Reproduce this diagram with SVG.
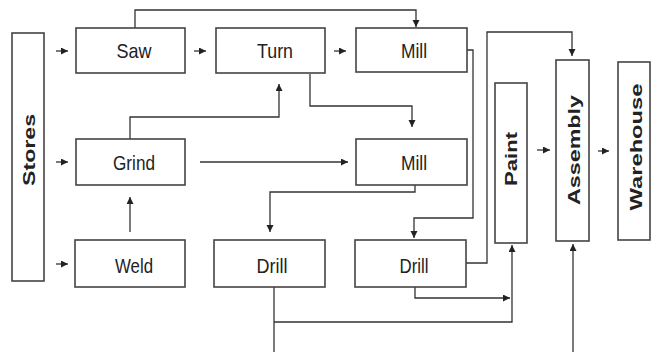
<svg xmlns="http://www.w3.org/2000/svg" width="652" height="352" viewBox="0 0 652 352">
<defs>
<marker id="ah" markerUnits="userSpaceOnUse" markerWidth="8" markerHeight="8" refX="7" refY="3.5" orient="auto">
<path d="M0,0 L7,3.5 L0,7 z" fill="#222"/>
</marker>
<style>
.box{fill:#fff;stroke:#444;stroke-width:1.6}
.lbl{font-family:"Liberation Sans",Arial,sans-serif;font-size:21px;fill:#222;text-anchor:middle}
.vl{font-family:"Liberation Sans",Arial,sans-serif;font-size:16px;font-weight:bold;fill:#222;text-anchor:middle}
.c{fill:none;stroke:#333;stroke-width:1.3}
.a{marker-end:url(#ah)}
</style>
</defs>
<rect width="652" height="352" fill="#fff"/>
<g id="connectors">
<path class="c a" d="M56,51 H68"/>
<path class="c a" d="M56,162 H68"/>
<path class="c a" d="M56,264 H68"/>
<path class="c a" d="M194,51 H206"/>
<path class="c a" d="M334,51 H346"/>
<path class="c a" d="M135,28 V10 H416 V27"/>
<path class="c a" d="M130,139 V117 H279 V84"/>
<path class="c a" d="M310,74 V106 H412 V127"/>
<path class="c a" d="M200,162 H348"/>
<path class="c a" d="M467,50 H473 V218 H414 V238"/>
<path class="c a" d="M415,185 V192 H270 V232"/>
<path class="c a" d="M130,232 V197"/>
<path class="c a" d="M466,263 H487 V32 H572 V56"/>
<path class="c a" d="M415,287 V298 H510"/>
<path class="c" d="M274,287 V352"/>
<path class="c a" d="M274,322 H512 V245"/>
<path class="c a" d="M573,352 V244"/>
<path class="c a" d="M537,150 H550"/>
<path class="c a" d="M598,151 H609"/>
</g>
<g id="stores"><rect class="box" x="12" y="33" width="32" height="248"/><text class="vl" transform="translate(35,150) rotate(-90)" textLength="72" lengthAdjust="spacingAndGlyphs">Stores</text></g>
<g id="saw"><rect class="box" x="76" y="28" width="109" height="45"/><text class="lbl" x="134" y="58" textLength="35" lengthAdjust="spacingAndGlyphs">Saw</text></g>
<g id="turn"><rect class="box" x="216" y="28" width="109" height="45"/><text class="lbl" x="275" y="58" textLength="36" lengthAdjust="spacingAndGlyphs">Turn</text></g>
<g id="mill1"><rect class="box" x="356" y="28" width="111" height="44"/><text class="lbl" x="414" y="58" textLength="26" lengthAdjust="spacingAndGlyphs">Mill</text></g>
<g id="grind"><rect class="box" x="76" y="139" width="109" height="46"/><text class="lbl" x="134" y="170" textLength="42" lengthAdjust="spacingAndGlyphs">Grind</text></g>
<g id="mill2"><rect class="box" x="356" y="139" width="111" height="46"/><text class="lbl" x="414" y="170" textLength="26" lengthAdjust="spacingAndGlyphs">Mill</text></g>
<g id="weld"><rect class="box" x="75" y="240" width="110" height="47"/><text class="lbl" x="134" y="273" textLength="38" lengthAdjust="spacingAndGlyphs">Weld</text></g>
<g id="drill1"><rect class="box" x="214" y="240" width="111" height="47"/><text class="lbl" x="272" y="273" textLength="31" lengthAdjust="spacingAndGlyphs">Drill</text></g>
<g id="drill2"><rect class="box" x="355" y="240" width="111" height="47"/><text class="lbl" x="414" y="273" textLength="29" lengthAdjust="spacingAndGlyphs">Drill</text></g>
<g id="paint"><rect class="box" x="495" y="83" width="32" height="160"/><text class="vl" transform="translate(517,159) rotate(-90)" textLength="54" lengthAdjust="spacingAndGlyphs">Paint</text></g>
<g id="assembly"><rect class="box" x="556" y="60" width="33" height="181"/><text class="vl" transform="translate(580,150) rotate(-90)" textLength="110" lengthAdjust="spacingAndGlyphs">Assembly</text></g>
<g id="warehouse"><rect class="box" x="618" y="62" width="32" height="178"/><text class="vl" transform="translate(642,147) rotate(-90)" textLength="127" lengthAdjust="spacingAndGlyphs">Warehouse</text></g>
</svg>
